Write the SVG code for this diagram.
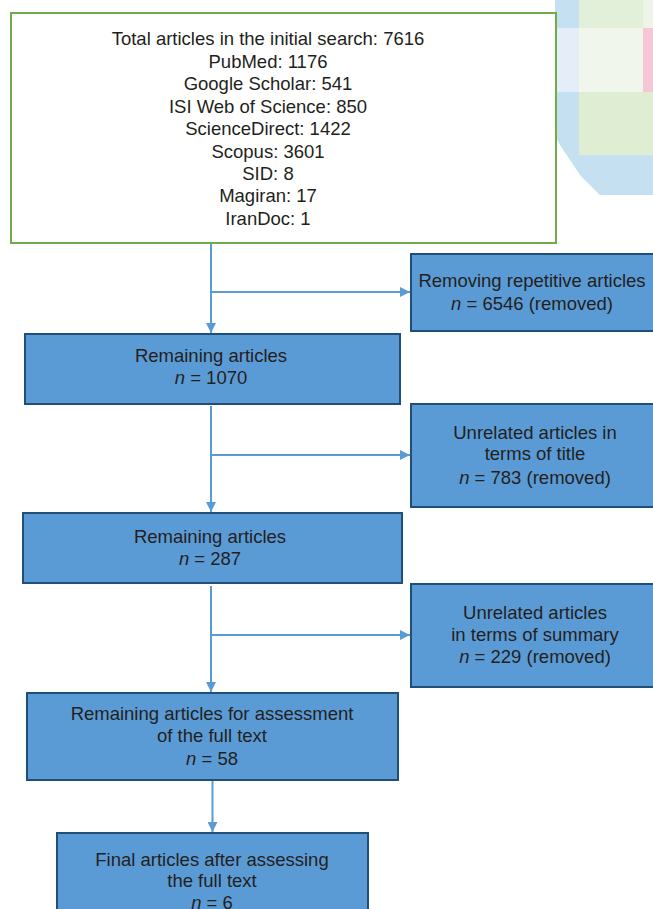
<svg xmlns="http://www.w3.org/2000/svg" width="653" height="909" viewBox="0 0 653 909">
<defs>
<marker id="ah" viewBox="0 0 10 10" refX="10" refY="5" markerWidth="10" markerHeight="10" markerUnits="userSpaceOnUse" orient="auto">
<path d="M0,0 L10,5 L0,10 Z" fill="#5b9bd5"/>
</marker>
<style>
.t{font-family:"Liberation Sans",Arial,sans-serif;font-size:18.5px;fill:#231f20;text-anchor:middle}
.b{fill:#5b9bd5;stroke:#1f4e79;stroke-width:2}
.c{stroke:#5b9bd5;stroke-width:2;fill:none}
</style>
</defs>
<rect width="653" height="909" fill="#fff"/>
<g id="decor">
<polygon points="555,0 653,0 653,195 600,195 590,185 580,175 570,160 560,145 552,130 547,110 547,27 555,27" fill="#c5e0f0"/>
<rect x="549" y="28" width="30" height="64" fill="#e4edf8"/>
<rect x="579" y="0" width="64" height="28" fill="#e2efd9"/>
<rect x="643" y="0" width="10" height="28" fill="#eef5e8"/>
<rect x="579" y="28" width="64" height="64" fill="#f0f6ec"/>
<rect x="643" y="28" width="10" height="64" fill="#f4c6d6"/>
<rect x="579" y="92" width="74" height="63" fill="#dfeed3"/>
</g>
<g id="n1">
<rect x="11" y="13" width="545" height="230" fill="#fff" stroke="#70ad47" stroke-width="2"/>
<text class="t" x="268" y="45">Total articles in the initial search: 7616</text>
<text class="t" x="268" y="67.5">PubMed: 1176</text>
<text class="t" x="268" y="90">Google Scholar: 541</text>
<text class="t" x="268" y="112.5">ISI Web of Science: 850</text>
<text class="t" x="268" y="135">ScienceDirect: 1422</text>
<text class="t" x="268" y="157.5">Scopus: 3601</text>
<text class="t" x="268" y="179.5">SID: 8</text>
<text class="t" x="268" y="202">Magiran: 17</text>
<text class="t" x="268" y="224.5">IranDoc: 1</text>
</g>
<g id="n2">
<rect class="b" x="411" y="254" width="250" height="77"/>
<text class="t" x="532" y="286.5">Removing repetitive articles</text>
<text class="t" x="532" y="309.5"><tspan font-style="italic">n</tspan> = 6546 (removed)</text>
</g>
<g id="n3">
<rect class="b" x="25" y="334" width="375" height="70"/>
<text class="t" x="211" y="361.5">Remaining articles</text>
<text class="t" x="211" y="383.5"><tspan font-style="italic">n</tspan> = 1070</text>
</g>
<g id="n4">
<rect class="b" x="411" y="404" width="250" height="103"/>
<text class="t" x="535" y="438.5">Unrelated articles in</text>
<text class="t" x="535" y="459.5">terms of title</text>
<text class="t" x="535" y="483.5"><tspan font-style="italic">n</tspan> = 783 (removed)</text>
</g>
<g id="n5">
<rect class="b" x="23" y="513" width="379" height="70"/>
<text class="t" x="210" y="542.5">Remaining articles</text>
<text class="t" x="210" y="564.5"><tspan font-style="italic">n</tspan> = 287</text>
</g>
<g id="n6">
<rect class="b" x="411" y="584" width="250" height="103"/>
<text class="t" x="535" y="618.5">Unrelated articles</text>
<text class="t" x="535" y="640.5">in terms of summary</text>
<text class="t" x="535" y="662.5"><tspan font-style="italic">n</tspan> = 229 (removed)</text>
</g>
<g id="n7">
<rect class="b" x="27" y="693" width="371" height="87"/>
<text class="t" x="212" y="719.5">Remaining articles for assessment</text>
<text class="t" x="212" y="741.5">of the full text</text>
<text class="t" x="212" y="764.5"><tspan font-style="italic">n</tspan> = 58</text>
</g>
<g id="n8">
<rect class="b" x="57" y="833" width="311" height="90"/>
<text class="t" x="212" y="865.5">Final articles after assessing</text>
<text class="t" x="212" y="886.5">the full text</text>
<text class="t" x="212" y="908.5"><tspan font-style="italic">n</tspan> = 6</text>
</g>
<g id="connectors">
<path class="c" d="M211,244 V333" marker-end="url(#ah)"/>
<path class="c" d="M211,292 H410" marker-end="url(#ah)"/>
<path class="c" d="M211,406 V512" marker-end="url(#ah)"/>
<path class="c" d="M211,455 H410" marker-end="url(#ah)"/>
<path class="c" d="M211,586 V692" marker-end="url(#ah)"/>
<path class="c" d="M211,635 H410" marker-end="url(#ah)"/>
<path class="c" d="M212.5,781 V832" marker-end="url(#ah)"/>
</g>
</svg>
